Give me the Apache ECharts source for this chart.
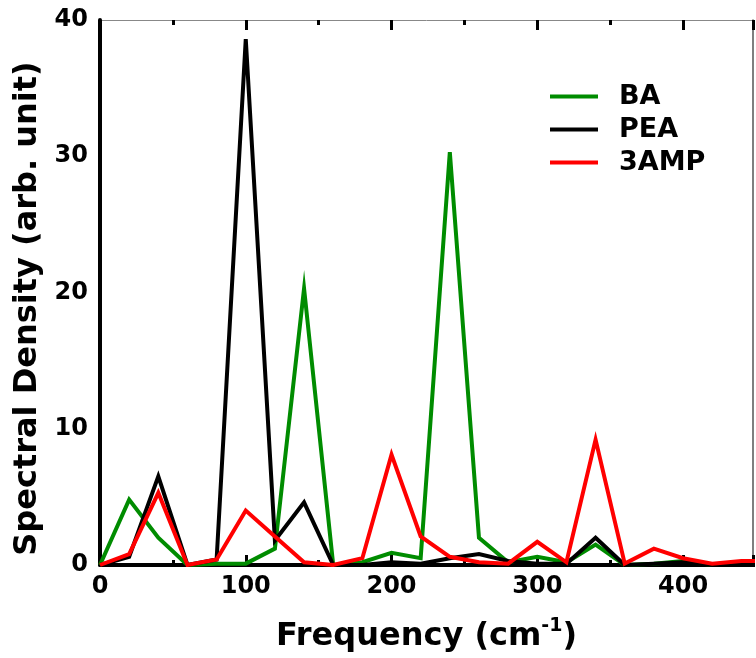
<!DOCTYPE html>
<html>
<head>
<meta charset="utf-8">
<script src="https://cdn.jsdelivr.net/npm/echarts@6/dist/echarts.min.js"></script>
<style>html,body{margin:0;padding:0;background:#fff}#c{width:756px;height:658px}</style>
</head>
<body>
<div id="c"></div>
<script>
var freq = [0,20,40,60,80,100,120,140,160,180,200,220,240,260,280,300,320,340,360,380,400,420,440,460];
var BA   = [0,4.8,2.0,0,0.1,0.1,1.2,20.3,0,0.2,0.9,0.5,30.3,2.0,0.2,0.6,0.2,1.5,0,0.1,0.3,0,0,0];
var PEA  = [0,0.6,6.5,0,0.4,38.6,1.8,4.6,0,0,0.2,0.1,0.5,0.8,0.3,0.1,0.1,2.0,0,0.1,0.2,0,0,0];
var AMP3 = [0,0.8,5.3,0,0.4,4.0,2.1,0.2,0,0.5,8.1,2.1,0.6,0.2,0.1,1.7,0.2,9.2,0.1,1.2,0.5,0.1,0.3,0.3];
var xTicks = [0,100,200,300,400];
var yTicks = [0,10,20,30,40];

function pairs(ys){ return freq.map(function(x,i){ return [x, ys[i]]; }); }
var FONT = '"DejaVu Sans", sans-serif';
var chart = echarts.init(document.getElementById('c'));
function mkSeries(name, ys, color){
  return {name:name, type:'line', data:pairs(ys), symbol:'none', clip:true,
    lineStyle:{color:color, width:4, join:'miter', miterLimit:10}, itemStyle:{color:color}};
}
chart.setOption({
  animation:false,
  backgroundColor:'#fff',
  grid:{left:100, right:2, top:20, bottom:93},
  legend:{
    left:545, top:78, orient:'vertical', itemWidth:48, itemHeight:4, itemGap:6,
    icon:'rect',
    textStyle:{fontFamily:FONT, fontWeight:'bold', fontSize:27, color:'#000', lineHeight:27, padding:[0,0,0,16]},
    data:['BA','PEA','3AMP']
  },
  xAxis:[{
    type:'value', min:0, max:448, interval:100, position:'bottom',
    name:'{a|Frequency (cm}{s|-1}{a|)}', nameLocation:'middle', nameGap:52,
    nameTextStyle:{rich:{
      a:{fontFamily:FONT, fontWeight:'bold', fontSize:32, color:'#000', lineHeight:40},
      s:{fontFamily:FONT, fontWeight:'bold', fontSize:19, color:'#000', lineHeight:40, verticalAlign:'top'}
    }},
    axisLine:{show:true, onZero:false, lineStyle:{color:'#000', width:4}},
    axisTick:{show:true, inside:true, length:10, lineStyle:{color:'#000', width:3}},
    minorTick:{show:true, splitNumber:2, length:5, lineStyle:{color:'#000', width:3}},
    axisLabel:{margin:10, fontFamily:FONT, fontWeight:'bold', fontSize:24, color:'#000',
      formatter:function(v){ return xTicks.indexOf(v)>=0 ? String(v) : ''; }},
    splitLine:{show:false}
  },{
    type:'value', min:0, max:448, interval:100, position:'top',
    axisLine:{show:true, onZero:false, lineStyle:{color:'#888', width:1}},
    axisTick:{show:true, inside:true, length:10, lineStyle:{color:'#000', width:3}},
    minorTick:{show:true, splitNumber:2, length:5, lineStyle:{color:'#000', width:3}},
    axisLabel:{show:false}, splitLine:{show:false}
  }],
  yAxis:[{
    type:'value', min:0, max:40, interval:10, position:'left',
    name:'Spectral Density (arb. unit)', nameLocation:'middle', nameGap:46,
    nameTextStyle:{fontFamily:FONT, fontWeight:'bold', fontSize:32, color:'#000', padding:[0,32,0,0]},
    axisLine:{show:true, onZero:false, lineStyle:{color:'#000', width:4}},
    axisTick:{show:false},
    axisLabel:{margin:12, fontFamily:FONT, fontWeight:'bold', fontSize:24, color:'#000',
      formatter:function(v){ return yTicks.indexOf(v)>=0 ? String(v) : ''; }},
    splitLine:{show:false}
  },{
    type:'value', min:0, max:40, interval:10, position:'right',
    axisLine:{show:true, onZero:false, lineStyle:{color:'#555', width:1.5}},
    axisTick:{show:false}, axisLabel:{show:false}, splitLine:{show:false}
  }],
  series:[
    mkSeries('BA', BA, '#008c00'),
    mkSeries('PEA', PEA, '#000000'),
    mkSeries('3AMP', AMP3, '#ff0000')
  ]
});
</script>
</body>
</html>
